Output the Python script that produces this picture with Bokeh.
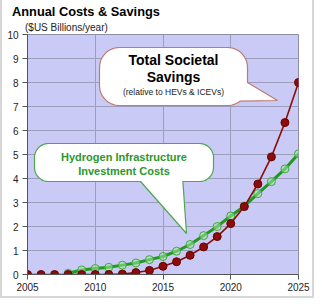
import math

from bokeh.embed import file_html
from bokeh.models import FixedTicker, Label, Range1d, Title
from bokeh.plotting import figure
from bokeh.resources import INLINE

# ---- data -------------------------------------------------------------
years = list(range(2005, 2026))
savings = [0.00, 0.00, 0.00, 0.00, 0.00, 0.00, 0.00, 0.02, 0.08, 0.17, 0.34,
           0.53, 0.80, 1.15, 1.58, 2.12, 2.83, 3.77, 4.90, 6.33, 8.00]

infra_years = list(range(2008, 2026))
infra_costs = [0.05, 0.19, 0.25, 0.30, 0.39, 0.48, 0.62, 0.75, 0.97, 1.25,
               1.62, 2.00, 2.44, 2.85, 3.37, 3.87, 4.40, 5.03]

x_ticks = [2005, 2010, 2015, 2020, 2025]
y_ticks = list(range(0, 11))

title_text = "Annual Costs & Savings"
units_text = "($US Billions/year)"
savings_lines = ["Total Societal", "Savings"]
savings_note = "(relative to HEVs & ICEVs)"
infra_lines = ["Hydrogen Infrastructure", "Investment Costs"]

# ---- layout -----------------------------------------------------------
W, H = 314, 298
BORDER = 2
MB_L, MB_R, MB_T, MB_B = 25, 18, 34, 24
X0, X1 = 2005, 2025
Y0, Y1 = 0, 10

FRAME_L = BORDER + MB_L            # page pixel of the frame's left edge
FRAME_T = MB_T                     # page pixel of the frame's top edge
FRAME_W = W - MB_L - MB_R
FRAME_H = H - MB_T - MB_B


def px_x(px):
    return X0 + (px - FRAME_L) / FRAME_W * (X1 - X0)


def px_y(py):
    return Y1 - (py - FRAME_T) / FRAME_H * (Y1 - Y0)


def rounded_rect(x0, y0, x1, y1, r):
    """Clockwise outline (page pixels, y down) of a rounded rectangle."""
    pts = []

    def edge(a, b, step=1.5):
        n = max(2, int(math.hypot(b[0] - a[0], b[1] - a[1]) / step))
        for i in range(n):
            t = i / n
            pts.append((a[0] + (b[0] - a[0]) * t, a[1] + (b[1] - a[1]) * t))

    def arc(cx, cy, a0, a1, n=14):
        for i in range(n):
            a = math.radians(a0 + (a1 - a0) * i / n)
            pts.append((cx + r * math.cos(a), cy + r * math.sin(a)))

    edge((x0 + r, y0), (x1 - r, y0))
    arc(x1 - r, y0 + r, -90, 0)
    edge((x1, y0 + r), (x1, y1 - r))
    arc(x1 - r, y1 - r, 0, 90)
    edge((x1 - r, y1), (x0 + r, y1))
    arc(x0 + r, y1 - r, 90, 180)
    edge((x0, y1 - r), (x0, y0 + r))
    arc(x0 + r, y0 + r, 180, 270)
    return pts


def callout(box, r, base_a, base_b, tip):
    pts = rounded_rect(*box, r)

    def nearest(p):
        return min(range(len(pts)),
                   key=lambda i: (pts[i][0] - p[0]) ** 2 + (pts[i][1] - p[1]) ** 2)

    ia, ib = nearest(base_a), nearest(base_b)
    outline = pts[:ia + 1] + [tip] + pts[ib:]
    return [px_x(p[0]) for p in outline], [px_y(p[1]) for p in outline]


# ---- figure -----------------------------------------------------------
p = figure(width=W, height=H, x_range=Range1d(X0, X1), y_range=Range1d(Y0, Y1),
           output_backend="svg", toolbar_location=None,
           min_border_left=MB_L, min_border_right=MB_R,
           min_border_top=MB_T, min_border_bottom=MB_B)
p.styles = {"border-left": "2px solid #d6d6d6",
            "border-right": "2px solid #d6d6d6",
            "border-bottom": "2px solid #d6d6d6"}

# units line sits just above the frame, the title above that
p.add_layout(Title(text=units_text, align="left", offset=-2.5, standoff=3,
                   text_font="Liberation Sans", text_font_size="10px",
                   text_font_style="normal", text_color="#222222"), "above")
p.add_layout(Title(text=title_text, align="left", offset=-15.5, standoff=0,
                   text_font="Liberation Sans", text_font_size="12.8px",
                   text_font_style="bold", text_color="#000000"), "above")

p.background_fill_color = "#CACAF6"
p.border_fill_color = "white"
p.outline_line_color = "#8E8EAA"
p.outline_line_width = 1

p.xgrid.ticker = FixedTicker(ticks=x_ticks)
p.ygrid.ticker = FixedTicker(ticks=y_ticks)
p.grid.grid_line_color = "#9C9CBC"
p.grid.grid_line_width = 1

p.xaxis.ticker = FixedTicker(ticks=x_ticks)
p.yaxis.ticker = FixedTicker(ticks=y_ticks)
for ax in (p.xaxis, p.yaxis):
    ax.axis_line_color = "#555555"
    ax.major_tick_line_color = "#555555"
    ax.major_tick_in = 0
    ax.major_tick_out = 5
    ax.minor_tick_line_color = None
    ax.major_label_text_font = "Liberation Sans"
    ax.major_label_text_font_size = "10px"
    ax.major_label_text_color = "#1e1e1e"
p.xaxis.major_label_standoff = 3
p.yaxis.major_label_standoff = 4

# infrastructure costs (green) under the savings curve (dark red)
p.line(infra_years, infra_costs, line_color="#1F9A1F", line_width=3)
p.scatter(infra_years, infra_costs, size=8, fill_color="#A6E6A6", fill_alpha=0.55,
          line_color="#3DAA3D", line_width=1)

p.line(years, savings, line_color="#8A0C0C", line_width=1.6)
p.scatter(years, savings, size=8, fill_color="#8A0C0C", line_color="#6E0000")

# callouts
sx, sy = callout((99, 47, 247, 105), 20, (245, 82), (241, 103), (277, 100))
p.patch(sx, sy, fill_color="white", line_color="#C07A6E", line_width=1.2)

hx, hy = callout((34, 143, 213, 181), 14, (183, 181), (140, 181), (186, 233))
p.patch(hx, hy, fill_color="white", line_color="#4EA64E", line_width=1.2)


def add_text(text, px, py, size, color, bold=False):
    p.add_layout(Label(x=px_x(px), y=px_y(py), text=text, text_align="center",
                       text_baseline="middle", text_font="Liberation Sans",
                       text_font_size=size, text_color=color,
                       text_font_style="bold" if bold else "normal"))


add_text(savings_lines[0], 173, 59, "14px", "#000000", bold=True)
add_text(savings_lines[1], 173, 76, "14px", "#000000", bold=True)
add_text(savings_note, 173, 91, "8.5px", "#222222")

add_text(infra_lines[0], 123.5, 156, "11px", "#2A982A", bold=True)
add_text(infra_lines[1], 123.5, 170.5, "11px", "#2A982A", bold=True)

open("out.html", "w").write(file_html(p, INLINE))
